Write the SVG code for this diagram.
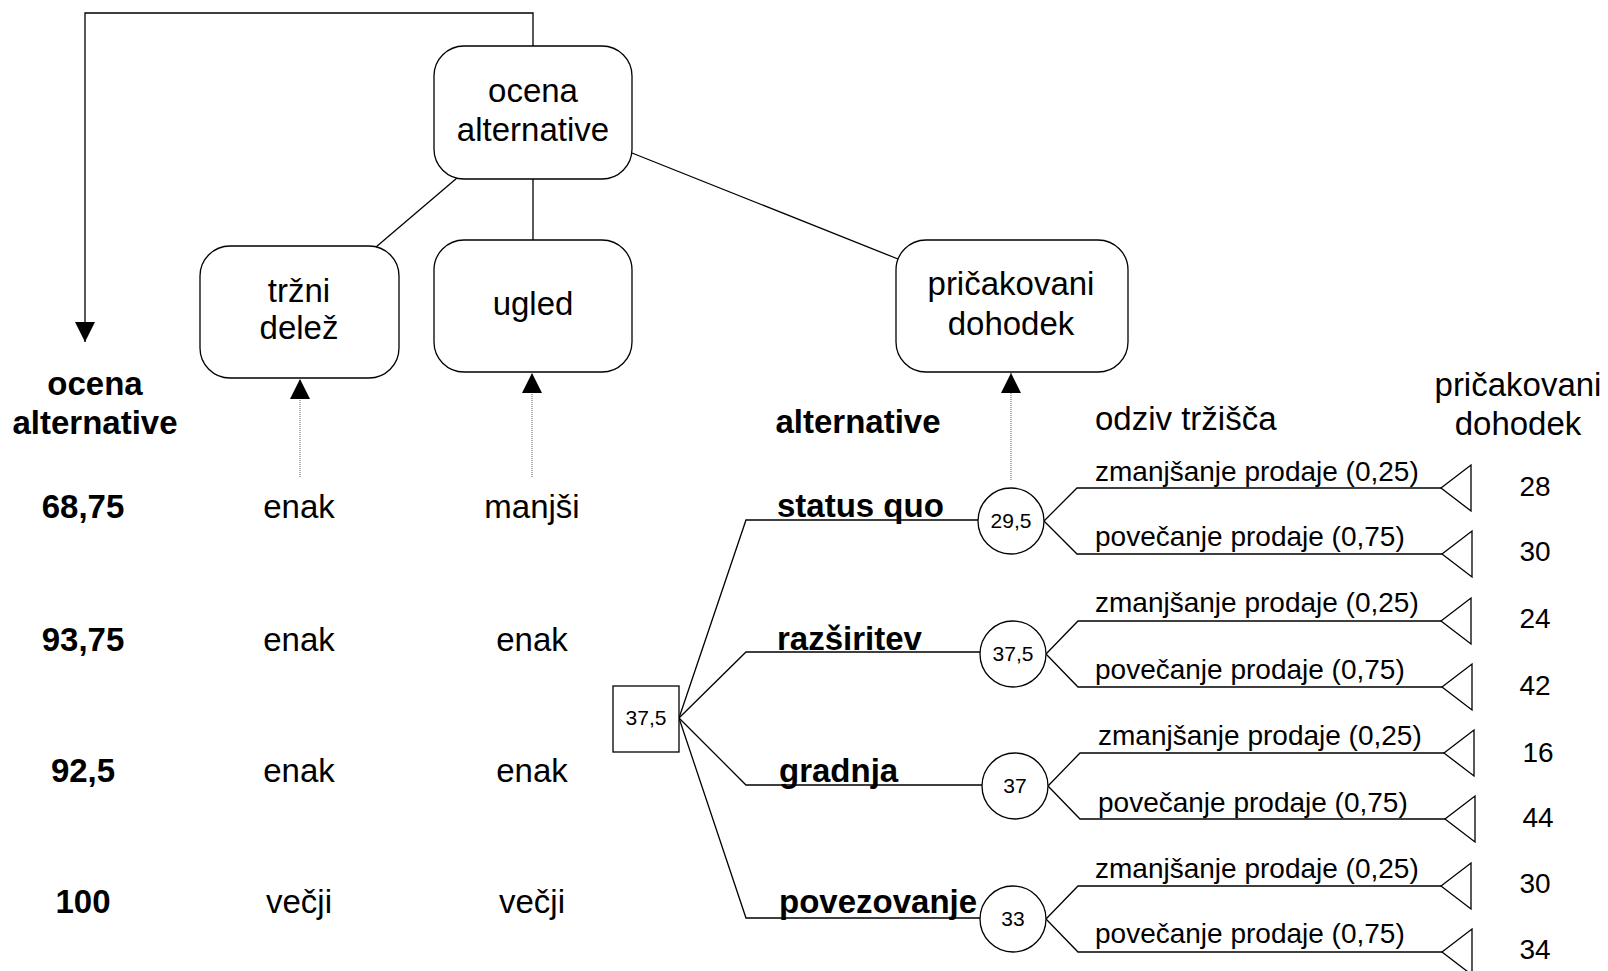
<svg xmlns="http://www.w3.org/2000/svg" width="1608" height="971" viewBox="0 0 1608 971">
  <style>
    text { font-family: "Liberation Sans", Arial, sans-serif; fill: #000; }
    .box { fill: #fff; stroke: #000; stroke-width: 1.3; }
    .t33 { font-size: 33px; text-anchor: middle; }
    .b33 { font-size: 33px; font-weight: bold; text-anchor: middle; }
    .alt { font-size: 33px; font-weight: bold; }
    .lbl { font-size: 28px; }
    .val { font-size: 28px; text-anchor: middle; }
    .small { font-size: 21px; text-anchor: middle; }
    .link { fill: none; stroke: #000; stroke-width: 1.3; }
    .dot { fill: none; stroke: #777; stroke-width: 1.2; stroke-dasharray: 1 1; }
    .term { fill: #fff; stroke: #000; stroke-width: 1.3; }
  </style>
  <defs>
    <marker id="head" markerUnits="userSpaceOnUse" markerWidth="20" markerHeight="20" refX="20" refY="10" orient="auto">
      <path d="M0,0 L20,10 L0,20 Z" fill="#000" stroke="none"/>
    </marker>
  </defs>
  <rect width="1608" height="971" fill="#fff"/>

  <!-- connectors -->
  <g id="connectors">
    <!-- hierarchy -->
    <path class="link" d="M533,46 V13 H85 V342" marker-end="url(#head)"/>
    <line class="link" x1="457" y1="178" x2="376" y2="247"/>
    <line class="link" x1="533" y1="179" x2="533" y2="240"/>
    <line class="link" x1="632" y1="153" x2="898" y2="259"/>
    <!-- attribute inputs -->
    <line class="dot" x1="300" y1="477" x2="300" y2="379" marker-end="url(#head)"/>
    <line class="dot" x1="532" y1="477" x2="532" y2="373" marker-end="url(#head)"/>
    <line class="dot" x1="1011" y1="480" x2="1011" y2="373" marker-end="url(#head)"/>
    <!-- decision branches -->
    <path class="link" d="M679,718 L746,520 H979"/>
    <path class="link" d="M679,718 L746,652 H980"/>
    <path class="link" d="M679,718 L746,785 H982"/>
    <path class="link" d="M679,718 L746,918 H980"/>
    <!-- chance branches -->
    <path class="link" d="M1044,521 L1077,488 H1441 M1044,521 L1077,554 H1442"/>
    <path class="link" d="M1046,654 L1078,621 H1441 M1046,654 L1078,687 H1442"/>
    <path class="link" d="M1048,786 L1080,753 H1444 M1048,786 L1080,819 H1445"/>
    <path class="link" d="M1046,919 L1078,886 H1441 M1046,919 L1078,952 H1442"/>
  </g>

  <!-- hierarchy nodes -->
  <g id="node-ocena">
    <rect class="box" x="434" y="46" width="198" height="133" rx="30" ry="30"/>
    <text class="t33" x="533" y="102">ocena</text>
    <text class="t33" x="533" y="141">alternative</text>
  </g>
  <g id="node-trzni-delez">
    <rect class="box" x="200" y="246" width="199" height="132" rx="30" ry="30"/>
    <text class="t33" x="299" y="302">tržni</text>
    <text class="t33" x="299" y="339">delež</text>
  </g>
  <g id="node-ugled">
    <rect class="box" x="434" y="240" width="198" height="132" rx="30" ry="30"/>
    <text class="t33" x="533" y="315">ugled</text>
  </g>
  <g id="node-pricakovani-dohodek">
    <rect class="box" x="896" y="240" width="232" height="132" rx="30" ry="30"/>
    <text class="t33" x="1011" y="295">pričakovani</text>
    <text class="t33" x="1011" y="335">dohodek</text>
  </g>

  <!-- evaluation table -->
  <g id="table">
    <text class="b33" x="95" y="395">ocena</text>
    <text class="b33" x="95" y="434">alternative</text>
    <text class="b33" x="83" y="518">68,75</text>
    <text class="b33" x="83" y="651">93,75</text>
    <text class="b33" x="83" y="782">92,5</text>
    <text class="b33" x="83" y="913">100</text>
    <text class="t33" x="299" y="518">enak</text>
    <text class="t33" x="299" y="651">enak</text>
    <text class="t33" x="299" y="782">enak</text>
    <text class="t33" x="299" y="913">večji</text>
    <text class="t33" x="532" y="518">manjši</text>
    <text class="t33" x="532" y="651">enak</text>
    <text class="t33" x="532" y="782">enak</text>
    <text class="t33" x="532" y="913">večji</text>
  </g>

  <!-- decision tree headers -->
  <g id="headers">
    <text class="b33" x="858" y="433">alternative</text>
    <text class="t33" x="1095" y="430" text-anchor="start" style="text-anchor:start">odziv tržišča</text>
    <text class="t33" x="1518" y="396">pričakovani</text>
    <text class="t33" x="1518" y="435">dohodek</text>
  </g>

  <!-- decision node -->
  <g id="node-decision">
    <rect class="term" x="613" y="686" width="66" height="66"/>
    <text class="small" x="646" y="725">37,5</text>
  </g>

  <!-- alternative labels -->
  <g id="alternatives">
    <text class="alt" x="777" y="517">status quo</text>
    <text class="alt" x="777" y="650">razširitev</text>
    <text class="alt" x="779" y="782">gradnja</text>
    <text class="alt" x="779" y="913">povezovanje</text>
  </g>

  <!-- chance nodes -->
  <g id="chance-status-quo">
    <circle class="term" cx="1011" cy="521" r="33"/>
    <text class="small" x="1011" y="528">29,5</text>
  </g>
  <g id="chance-razsiritev">
    <circle class="term" cx="1013" cy="654" r="33"/>
    <text class="small" x="1013" y="661">37,5</text>
  </g>
  <g id="chance-gradnja">
    <circle class="term" cx="1015" cy="786" r="33"/>
    <text class="small" x="1015" y="793">37</text>
  </g>
  <g id="chance-povezovanje">
    <circle class="term" cx="1013" cy="919" r="33"/>
    <text class="small" x="1013" y="926">33</text>
  </g>

  <!-- market response labels -->
  <g id="responses">
    <text class="lbl" x="1095" y="481">zmanjšanje prodaje (0,25)</text>
    <text class="lbl" x="1095" y="546">povečanje prodaje (0,75)</text>
    <text class="lbl" x="1095" y="612">zmanjšanje prodaje (0,25)</text>
    <text class="lbl" x="1095" y="679">povečanje prodaje (0,75)</text>
    <text class="lbl" x="1098" y="745">zmanjšanje prodaje (0,25)</text>
    <text class="lbl" x="1098" y="812">povečanje prodaje (0,75)</text>
    <text class="lbl" x="1095" y="878">zmanjšanje prodaje (0,25)</text>
    <text class="lbl" x="1095" y="943">povečanje prodaje (0,75)</text>
  </g>

  <!-- end nodes with payoffs -->
  <g id="end-1"><polygon class="term" points="1441,488 1471,465 1471,511"/><text class="val" x="1535" y="496">28</text></g>
  <g id="end-2"><polygon class="term" points="1442,554 1472,531 1472,577"/><text class="val" x="1535" y="561">30</text></g>
  <g id="end-3"><polygon class="term" points="1441,621 1471,598 1471,644"/><text class="val" x="1535" y="628">24</text></g>
  <g id="end-4"><polygon class="term" points="1442,687 1472,664 1472,710"/><text class="val" x="1535" y="695">42</text></g>
  <g id="end-5"><polygon class="term" points="1444,753 1474,730 1474,776"/><text class="val" x="1538" y="762">16</text></g>
  <g id="end-6"><polygon class="term" points="1445,819 1475,796 1475,842"/><text class="val" x="1538" y="827">44</text></g>
  <g id="end-7"><polygon class="term" points="1441,886 1471,863 1471,909"/><text class="val" x="1535" y="893">30</text></g>
  <g id="end-8"><polygon class="term" points="1442,952 1472,929 1472,975"/><text class="val" x="1535" y="959">34</text></g>
</svg>
